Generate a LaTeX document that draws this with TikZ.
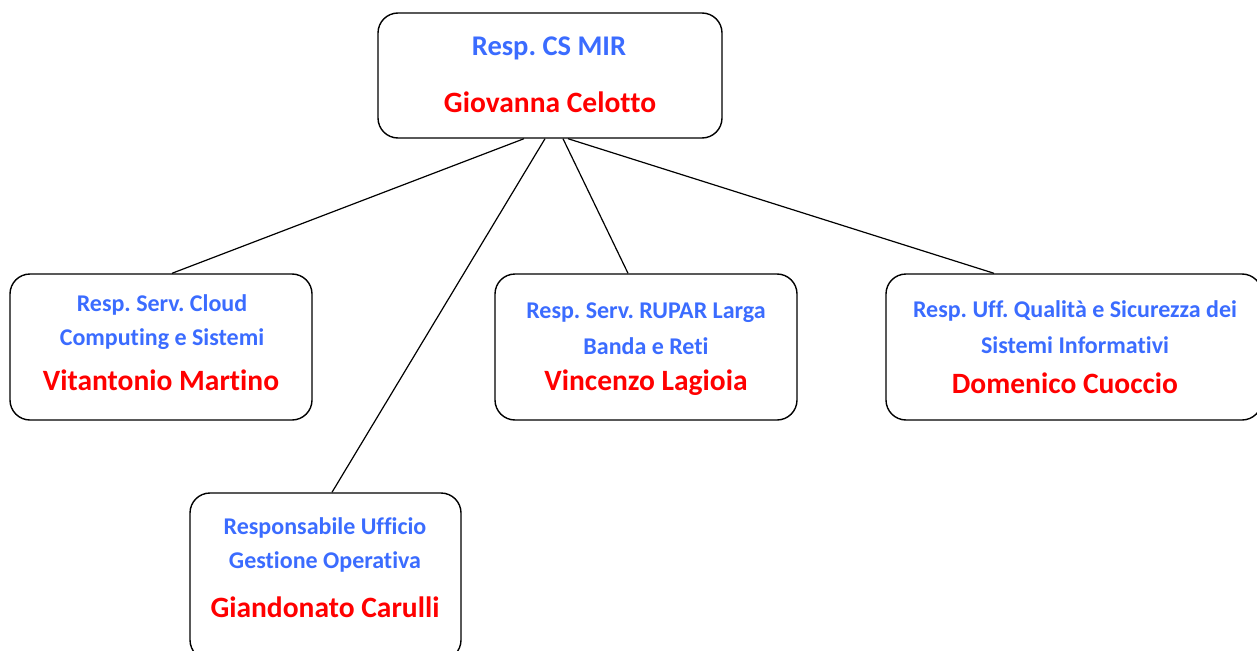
\documentclass[tikz,border=0pt]{standalone}
\usepackage{fontspec}
\setmainfont[Ligatures=NoCommon]{Carlito}
\usetikzlibrary{calc}
\definecolor{tblue}{RGB}{59,108,255}
\definecolor{tred}{RGB}{255,0,0}
\tikzset{
  box/.style={draw=black, line width=1.4pt, rounded corners=20pt, fill=white, inner sep=0pt},
  conn/.style={draw=black, line width=1.2pt},
  role/.style={text=tblue, font=\bfseries\fontsize{24}{28}\selectfont, inner sep=0pt, anchor=center},
  toprole/.style={text=tblue, font=\bfseries\fontsize{28.5}{33}\selectfont, inner sep=0pt, anchor=center},
  person/.style={text=tred, font=\bfseries\fontsize{29.5}{34}\selectfont, inner sep=0pt, anchor=center},
}
\begin{document}
\frenchspacing
\begin{tikzpicture}[x=1pt,y=-1pt]
\useasboundingbox (0,0) rectangle (1257,650);
\begin{scope}
\clip (0,0) rectangle (1257,650);
\node[box, minimum width=344pt, minimum height=125pt] (top) at (550,75.5) {};
\node[box, minimum width=302pt, minimum height=146pt] (left) at (161,347) {};
\node[box, minimum width=302pt, minimum height=146pt] (mid) at (646,347) {};
\node[box, minimum width=376pt, minimum height=146pt] (right) at (1074,347) {};
\node[box, minimum width=271pt, minimum height=167pt] (bot) at (325.5,576.5) {};

\draw[conn] ([xshift=-26pt]top.south) -- ([xshift=11pt]left.north);
\draw[conn] ([xshift=-5pt]top.south) -- ([xshift=6.5pt]bot.north);
\draw[conn] ([xshift=13pt]top.south) -- ([xshift=-18pt]mid.north);
\draw[conn] ([xshift=18pt]top.south) -- ([xshift=-80pt]right.north);

\node[toprole] (t1) at (549,48) {Resp. CS MIR};
\node[person] (t2) at (550,102) {Giovanna Celotto};

\node[role] (l1) at (162,305) {Resp. Serv. Cloud};
\node[role] (l2) at (162,339) {Computing e Sistemi};
\node[person] (l3) at (161,380) {Vitantonio Martino};

\node[role] (m1) at (646,313) {Resp. Serv. RUPAR Larga};
\node[role] (m2) at (646,346) {Banda e Reti};
\node[person] (m3) at (646,383) {Vincenzo Lagioia};

\node[role] (r1) at (1075,311) {Resp. Uff. Qualità e Sicurezza dei};
\node[role] (r2) at (1075,345) {Sistemi Informativi};
\node[person] (r3) at (1065,383) {Domenico Cuoccio};

\node[role] (b1) at (325,528) {Responsabile Ufficio};
\node[role] (b2) at (325,562) {Gestione Operativa};
\node[person] (b3) at (325,607) {Giandonato Carulli};
\end{scope}
\end{tikzpicture}
\end{document}
